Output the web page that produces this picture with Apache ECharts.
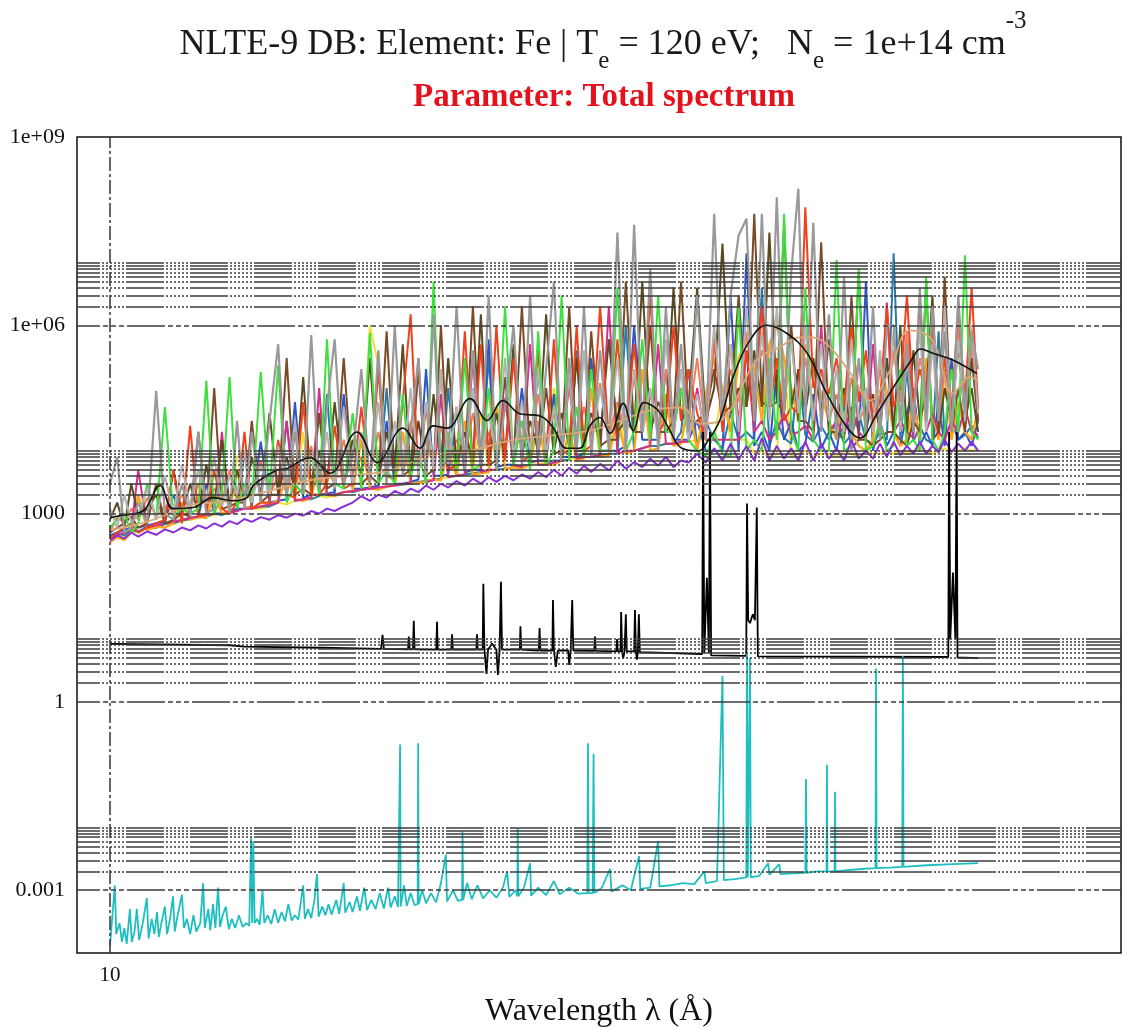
<!DOCTYPE html>
<html><head><meta charset="utf-8">
<script src="https://cdn.jsdelivr.net/npm/echarts@6/dist/echarts.min.js"></script>
<style>html,body{margin:0;padding:0;background:#fff}#c{width:1122px;height:1028px}</style>
</head><body><div id="c"></div>
<script>
// ---- axis ticks / grid values ----
const yTickValues = [1e-3, 1, 1e3, 1e6, 1e9];
const yTickLabels = ['0.001', '1', '1000', '1e+06', '1e+09'];
const xTickValues = [10];
const xTickLabels = ['10'];
const majorGrid = [1e-3, 1, 1e3, 1e6];
const minorGrid = [2e-3,3e-3,4e-3,5e-3,6e-3,7e-3,8e-3,9e-3,1e-2,
                   2,3,4,5,6,7,8,9,10,
                   2e3,3e3,4e3,5e3,6e3,7e3,8e3,9e3,1e4,
                   2e6,3e6,4e6,5e6,6e6,7e6,8e6,9e6,1e7];

// ---- wavelength grid (Angstrom) shared by the coloured components ----
const lambda = [
10.0,10.15,10.3,10.45,10.6,10.8,11.0,11.2,11.4,11.6,
11.8,12.0,12.2,12.4,12.6,12.8,13.0,13.2,13.4,13.65,
13.9,14.15,14.4,14.65,14.9,15.15,15.4,15.65,15.9,16.2,
16.5,16.8,17.1,17.4,17.7,18.0,18.3,18.6,18.9,19.2,
19.5,19.8,20.1,20.45,20.8,21.15,21.5,21.85,22.2,22.6,
23.0,23.4,23.8,24.2,24.6,25.0,25.4,25.8,26.2,26.6,
27.0,27.5,28.0,28.5,29.0,29.5,30.0,30.5,31.0,31.5,
32.0,32.5,33.0,33.6,34.2,34.8,35.4,36.0,36.6,37.2,
37.8,38.4,39.0,39.6,40.2,40.8,41.4,42.0,42.7,43.4,
44.1,44.8,45.5,46.2,46.9,47.6,48.3,49.0,49.7,50.4,
51.1,51.8,52.5,53.2,53.9,54.6,55.3,56.0,56.8,57.6,
58.4,59.2,60.0];

const yellowVals = [
380,450,420,520,500,600,580,700,680,760,
800,850,900,950,1e3,1e3,8e3,1e4,1.2e3,1.2e3,
1.3e3,1.5e3,1.4e3,1.6e3,2e4,1.7e3,1.9e3,1.8e3,2e3,2.2e3,
2.2e3,2.4e3,1e6,2.3e5,2.7e3,2.8e3,2.9e3,3e3,3.2e3,3.3e3,
3.5e3,3.6e3,3.8e3,4e3,4.2e3,4.4e3,4e4,4.8e3,5e3,5.2e3,
5.5e3,5.8e3,6e3,6.2e3,6.5e3,1e5,7e3,7.2e3,7.5e3,8e3,
8e3,8.5e3,9e3,5e4,1e4,1e4,1.1e4,1.2e4,1.2e4,1.3e4,
1.3e4,1.4e4,1.4e4,1.5e4,1.5e4,1.5e4,1e5,1.5e4,1.5e4,1.5e4,
9e3,1e4,8e3,9e3,3e5,8e3,9e3,1e4,8e3,9e3,
9e3,8e3,1e4,9e3,8e3,1e4,9e3,9e3,1e4,9e3,
1e4,9e3,1e4,1.1e4,1e4,9e3,1e4,1.1e4,1e4,1e4,
1.1e4,1e4,1.1e4];
const tealVals = [
420,480,450,550,520,620,600,680,700,780,
820,880,900,1e3,950,1.1e3,1.1e3,1e4,1.2e3,1.3e3,
1.3e3,1.5e3,3e4,1.6e3,1.7e3,1.7e3,1.9e3,8e4,2e3,2.2e3,
2.2e3,2.4e3,2.5e3,2.6e3,1e5,2.8e3,2.9e3,3e3,3.2e3,3.3e3,
3.5e3,3.6e3,1e5,4e3,4.2e3,4.4e3,4.6e3,3e5,5e3,5.2e3,
5.5e3,5.8e3,6e3,2e5,6.5e3,7e3,7e3,7.2e3,4e5,8e3,
8e3,8.5e3,9e3,9e3,1e6,1e4,1.1e4,1.2e4,1.2e4,1.3e4,
1.3e4,2e4,2e5,1.2e4,3e4,1.5e4,1.1e4,4e4,1.5e4,2e4,
1.5e4,4e6,1.2e4,3e4,1.6e4,1.3e4,2e5,1.8e4,1.4e4,2.5e4,
1.5e4,3e4,1.3e4,1.8e4,4e4,1.5e4,1.3e4,2e4,1.5e4,1.4e7,
1.6e4,2e5,1.4e4,2.5e4,1.5e4,1.3e4,8e5,1.6e4,3e4,1.5e4,
1.8e4,2.5e4,1.6e4];
const blueVals = [
450,500,550,600,600,650,700,750,2e3,800,
850,900,3e3,1e3,1e3,1.1e3,1.2e3,1.2e3,1.3e3,1.4e4,
1.5e3,1.6e3,1.7e3,6e4,1.8e3,2e3,2e3,2.1e3,2.2e3,8e4,
2.5e3,2.5e3,2.6e3,2.8e3,3e4,3e3,3e3,3.2e3,3.5e3,2e5,
4e3,4e3,4.2e3,5e4,4.5e3,5e3,5e3,6e5,5.5e3,6e3,
6e3,1e5,6.5e3,7e3,7e3,8e4,8e3,8e3,8e3,9e3,
3e5,1e4,1e4,1e4,1.2e4,1e6,1.5e4,1.5e4,1.5e4,2e5,
1.5e4,1.5e4,1.5e4,3e4,1e4,1e4,1e4,3e6,1e4,1.4e7,
1.2e4,2e4,1e4,2e5,1.5e4,3e4,1e4,1.3e4,8e4,1.1e4,
2e4,1e4,6e4,1.1e4,1.5e4,5e6,1e4,3e4,1.2e4,2e4,
1.2e4,4e4,1e5,1.2e4,2e4,1.2e4,6e4,1.2e4,3e5,1.5e4,
2e4,1.2e4,3e4];
const orangeVals = [
350,420,380,500,2e3,550,620,600,700,1.5e3,
800,900,850,2e3,1e3,1.1e3,5e3,1.3e3,1.2e3,1.5e3,
1.4e3,1.6e3,4e3,1.7e3,1.6e3,1.8e3,6e3,2e3,1.9e3,2.2e3,
2.3e3,1.5e4,2.5e3,2.4e3,2.7e3,2.8e3,2e4,3e3,3.1e3,3.2e3,
3.5e3,3.4e3,1e4,4e3,3e4,4.2e3,4.4e3,4.6e3,5e4,5e3,
5.5e3,5.2e3,6e3,3e4,6e3,6e3,7e3,2e4,7e3,7.5e3,
1e5,8e3,8.5e3,3e4,9e3,1e4,2e5,1e4,1.1e4,8e4,
1.2e4,1.3e4,6e4,1e4,8e4,3e5,1e5,2e4,3e5,6e5,
2e5,3e4,5e5,1e6,3e5,1e5,3e4,5e5,2e5,8e4,
3e4,1.5e4,1e5,2e4,1.2e4,1e4,1.5e4,3e5,8e4,2e4,
1.2e4,1.5e4,6e4,1.5e4,3e5,4e4,1.5e4,2e5,1.5e4,6e4,
2e4,1.5e4,5e4];
const salmonVals = [
500,900,700,1.2e3,800,1.8e3,900,1.3e3,1.1e3,2e3,
1.2e3,3e3,1.3e3,2.5e3,1.5e3,5e3,1.6e3,3e3,1.8e3,7e3,
2e3,4e3,2.2e3,6e3,2.5e3,1.2e4,2.8e3,5e3,3e3,1.5e4,
3.5e3,8e3,4e3,2e4,4.5e3,1e4,5e3,3e4,5.5e3,1.5e4,
6e3,2.5e4,7e3,1.5e4,8e3,4e4,8e3,2e4,9e3,6e4,
1e4,3e4,1.1e4,8e4,1.2e4,4e4,1.3e4,1e5,1.4e4,5e4,
1.5e4,1.2e5,1.6e4,6e4,1.8e4,1.5e5,2e4,8e4,2e4,2e5,
2.5e4,1e5,3e4,3e5,2e4,5e5,4e4,2e5,6e4,8e5,
1e5,4e5,2e5,1.5e6,1e5,6e5,5e4,3e5,4e4,2e5,
3e4,8e4,2e4,1.5e5,3e4,5e4,4e4,2e5,5e4,4e5,
6e4,8e5,5e4,3e5,1e5,6e5,4e4,2e5,5e4,1e6,
4e4,5e5,3e4];
const magentaVals = [
400,450,500,550,5e3,600,650,700,750,800,
850,900,950,1e3,2e4,1e3,1.1e3,1.2e3,1.2e3,1.3e3,
1.4e3,1.5e3,3e4,1.6e3,1.7e3,1.8e3,1e5,2e3,2e3,2.2e3,
2.3e3,2.4e3,2.5e3,2.6e3,2.7e3,2.8e3,3e3,3e3,3e5,3.2e3,
3.4e3,8e4,3.8e3,4e3,4.2e3,3e5,4.6e3,5e3,5e3,7e4,
6e3,5.5e3,5e5,6e3,6e3,6.5e3,7e3,1.5e5,7.5e3,8e3,
8e3,8.5e3,2e6,9e3,1e4,1e4,1.1e4,1.2e4,5e5,1.3e4,
1.3e4,1.4e4,1.4e4,1e5,1.5e4,1.5e4,1.5e4,1.5e4,1.5e4,4e5,
2e4,3e4,1.5e4,2e4,4e4,1.8e4,2e4,2.5e4,1.5e4,1e6,
2e4,3e4,1.8e4,5e4,2e4,1.5e4,5e5,2e4,2.3e6,2e4,
3e4,2e4,1.6e4,3e6,2e4,4e4,2e4,1.5e4,3e4,2e4,
5e4,2e4,1.8e4];
const oliveVals = [
800,1.5e3,600,3e3,900,1.2e3,2e3,700,5e3,1e3,
3e3,1e3,6e3,1.2e3,1.5e4,1.4e3,5e3,1.6e3,8e3,2e3,
4e4,2e3,8e3,2.5e3,1.5e5,2.5e3,1e4,3e3,6e4,3e3,
1.5e4,4e3,3e5,3.5e3,2e4,5e3,5e5,4e3,3e4,5e3,
8e4,6e3,3e5,6e3,2e4,7e3,1.5e6,7e3,4e4,8e3,
5e5,9e3,3e4,1e4,1.5e6,1e4,4e4,1.2e4,3e5,1.2e4,
4e4,1.5e4,6e5,2e4,3e4,2e4,5e6,2e4,6e4,3e4,
4e6,3e4,5e4,4e6,3e4,1e5,2e7,4e4,1e5,5e4,
4e5,5e4,3e7,6e4,4.3e7,5e4,2e5,4e4,3e5,4e4,
6e5,3e4,1e5,2e4,7e6,2e4,8e4,2e4,3e5,2e4,
1e6,2e4,4e5,3e4,8e4,3e6,2e4,1e5,3e4,5e5,
3e4,1e5,2e4];
const brownVals = [
500,600,700,900,600,700,3e3,700,800,1e3,
900,2e4,1e3,1e5,1.2e3,1.3e3,1.5e3,1.5e3,3e4,1.5e3,
2e3,2e3,3e5,2e3,2.5e3,2e3,4e4,2.5e3,3e3,3e5,
3e3,3e3,4e3,3e3,8e5,4e3,4e3,5e3,2e5,4e3,
5e3,1e6,5e3,6e3,6e3,2e6,6e3,6e3,7e3,1.5e5,
7e3,2e6,8e3,8e3,1e5,9e3,1e4,2e6,1e4,1e4,
8e5,1.2e4,1.5e4,1.5e4,5e6,2e4,2e4,1e6,2e4,2e4,
3e4,5e6,3e4,3e4,4e4,2e5,4e4,5e4,3e6,5e4,
6e7,6e4,5e4,6e4,4e4,1e6,3e4,3e4,2e4,2.1e7,
2e4,2e4,1.5e4,3e6,1.5e4,1.5e4,1.2e4,1.5e4,2e4,2e4,
1.5e4,1.2e4,3e4,2e4,5e6,1.5e4,2e4,6e6,2e4,1e5,
2e4,3e5,3e4];
const redVals = [
400,500,600,700,500,600,700,800,5e3,700,
2.5e4,900,1e3,5e3,1.2e3,1e3,1.5e3,2e4,1.2e3,1.5e3,
1.5e3,1.5e4,2e3,1.8e3,6e4,2e3,2e3,3e3,2.5e4,2.5e3,
3e3,5e4,3e3,2e5,4e3,3.5e3,6e4,1.5e6,4e3,5e4,
5e3,2e5,5e3,6e3,8e5,6e3,5e5,6e3,1e6,7e3,
3e5,7e3,8e3,4e5,8e3,6e5,9e3,1e4,1e6,1e4,
1.2e4,2e6,1.5e4,6e5,2e4,5e5,2e4,3e6,2e4,3e4,
1e6,3e4,2e5,4e4,1.5e4,8e5,2e4,5e5,3e4,4e5,
3e4,2e6,4e4,3e5,3e4,5e4,4e4,7.6e7,1e5,2e5,
8e4,3e5,5e4,1e6,6e4,4e5,3e4,6e4,2e6,5e4,
1e5,3e6,6e4,2e5,8e4,1e6,5e4,3e5,4e4,2e6,
6e4,4e6,5e4];
const greenVals = [
600,800,1e3,500,700,3e3,800,5e4,900,1.2e3,
1e3,1.2e3,1.3e5,1e3,2e3,1.5e5,1.2e3,3e3,1.5e3,1.8e5,
2e3,2.3e5,1.5e3,3e3,2e3,1e4,2e3,6e5,3e3,2.5e3,
4e4,2.5e3,7.5e5,3e3,5e3,3e3,8e4,4e3,1e4,3e3,
5e6,4e3,2e4,5e3,3e5,5e3,6e3,1e5,5e3,2e6,
6e3,3e4,5e3,8e5,6e3,1e4,3e6,7e3,5e4,8e3,
2e5,1e4,1e4,4e6,1e4,2e4,6e5,1.5e4,3e6,2e4,
2e4,1e5,1.5e4,1e4,8e3,2e4,9e3,8e3,2e6,1e4,
1.5e4,1e4,3e5,1.5e4,6e7,2e4,1e4,4e6,1.5e4,1e4,
1e4,1.1e7,1e4,1.2e4,8e6,1e4,1.2e4,3e4,1e4,1.2e4,
2e5,1.2e4,1.5e4,1e4,6e6,1.5e4,1e4,2e4,2e5,2e4,
1.3e7,2e4,1.5e4];
const silverVals = [
1.2e3,600,2e3,700,1e3,2.5e3,800,4e3,1e3,6e3,
1.2e3,5e3,1.5e3,8e3,1.3e3,4e3,2e3,1e4,1.5e3,6e3,
2e3,1.2e4,2.5e3,3e4,2e3,1e4,3e3,2e4,2.5e3,5e4,
3e3,2e4,4e3,6e4,3.5e3,3e4,5e3,1e5,4e3,6e4,
5e3,2e5,6e3,5e4,7e3,1e5,6e3,4e4,8e3,3e5,
8e3,6e4,1e4,2e5,9e3,5e4,1.2e4,1.5e5,1e4,4e5,
1.2e4,1e5,1.5e4,3e5,1.3e4,2e5,2e4,1e5,1.5e4,6e5,
2e4,2e5,1.5e4,8e4,2e4,1e6,3e4,5e5,2e4,2e6,
4e4,8e5,3e4,2e6,5e4,6e5,4e4,1e6,3e4,5e5,
3e4,2e5,2e4,6e5,3e4,1e5,2e4,4e5,3e4,8e5,
2e4,3e5,3e4,1e6,2e4,5e5,3e4,2e6,2e4,6e5,
3e4,1e6,4e4];
const grayVals = [
3e3,8e3,500,600,1.5e3,700,9e4,1e3,800,3e3,
900,2e4,1e3,1.2e3,5e3,1e3,3e4,1.2e3,2e4,1.5e3,
3e4,5e5,2e3,2e4,2e3,7e5,2.5e3,5e4,6e5,3e3,
8e3,2e5,3e3,4e5,3e3,1e6,4e3,2e4,3e5,4e3,
1.5e6,5e3,8e3,2e6,5e3,4e5,6e3,3e6,5e3,5e4,
1e6,6e3,3e6,8e3,2e5,5e6,7e3,3e5,1e4,2e6,
8e3,4e5,1e4,3e7,1e4,4e7,2e4,8e6,1e4,2e6,
1.5e4,5e5,2e4,3e6,1.5e4,6e7,3e4,3e6,2.7e7,5e7,
3e4,6e7,5e4,1.1e8,4e4,7e6,1.5e8,3e4,4.3e7,2e4,
1.5e6,1.5e4,6e6,1e4,3e5,2e4,2e6,1.5e4,1e6,1e6,
3e4,5e5,2e4,4e6,3e4,2e6,3e4,8e5,2e4,3e6,
4e4,8e5,2e5];
const purpleVals = [
370,450,400,500,430,520,460,560,500,600,
540,650,580,700,620,760,680,820,740,880,
800,950,860,1e3,930,1.1e3,1e3,1.2e3,1.1e3,1.3e3,
1.5e3,1.9e3,1.6e3,2e3,1.8e3,2.3e3,2e3,2.5e3,2.2e3,2.8e3,
2.4e3,3e3,2.6e3,3.3e3,2.8e3,3.6e3,3e3,3.8e3,3.2e3,4e3,
3.4e3,4.2e3,3.6e3,4.6e3,3.8e3,5e3,4e3,5.4e3,4.3e3,5.8e3,
4.6e3,6.2e3,4.9e3,7e3,5.2e3,6.6e3,5.5e3,7.5e3,5.8e3,8e3,
5.5e3,7e3,6.5e3,9e3,6.5e3,1.1e4,7e3,1.3e4,7.2e3,1.2e4,
7e3,1.6e4,7e3,1.2e4,7.5e3,1.1e4,7e3,1.4e4,7e3,1.3e4,
7.5e3,1.1e4,7e3,1.5e4,7.5e3,1e4,7.5e3,1.3e4,8e3,1.4e4,
8.5e3,1.2e4,9e3,1.4e4,9e3,1.2e4,9.5e3,1.5e4,9.5e3,1.3e4,
1e4,1.4e4,1e4];

// ---- smooth (convolved) total spectrum, [lambda, value] ----
const smoothTotal = [
[10.0,860],[10.21,930],[10.70,1.1e3],[11.09,2.8e3],[11.39,1.2e3],[11.87,1.25e3],
[12.37,1.8e3],[12.89,1.6e3],[13.27,1.8e3],[13.44,2.8e3],[14.11,4.9e3],[14.40,5.2e3],
[15.11,7.8e3],[15.75,4.4e3],[16.65,2e4],[17.36,6.5e3],[18.31,2.3e4],[18.96,1.1e4],
[19.48,2.5e4],[20.05,2.3e4],[21.03,6.8e4],[21.78,3.05e4],[22.50,6.3e4],[23.30,3.9e4],
[24.30,3.6e4],[24.95,2.35e4],[25.67,1.1e4],[26.36,1.1e4],[26.93,2.5e4],[27.49,3.4e4],
[28.07,1.9e4],[28.84,5.7e4],[29.46,2.1e4],[30.10,5.9e4],[31.0,4.4e4],[31.66,2.35e4],
[32.55,1.1e4],[33.7,1.0e4],[34.36,1.46e4],[35.2,3.05e4],[36.17,1.48e5],[37.47,5.8e5],
[38.79,1.0e6],[40.44,7.4e5],[42.16,3.6e5],[43.9,8.2e4],[45.79,2.35e4],[47.0,1.6e4],
[48.69,3.9e4],[50.33,1.0e5],[52.48,3.1e5],[53.25,4.2e5],[54.65,3.6e5],[56.94,2.8e5],[59.87,1.7e5]];
const tanSmooth = [
[10.0,540],[10.86,770],[11.79,1.35e3],[12.81,1.6e3],[13.91,2.3e3],[15.11,3.4e3],
[16.41,4e3],[17.82,4.9e3],[19.36,8.4e3],[21.03,1e4],[22.83,1.46e4],[24.80,1.75e4],
[26.93,2.1e4],[28.65,3e4],[30.48,4.4e4],[32.55,4.9e4],[33.8,2.7e4],[35.2,3e4],
[38.0,2.8e5],[39.85,4.5e5],[41.5,6.4e5],[42.6,6.4e5],[44.19,4.5e5],[46.35,1.5e5],
[47.99,6.3e4],[50.0,1.9e5],[52.12,8.3e5],[54.6,5.8e5],[57.0,8.2e4],[58.98,1.5e5],[60.0,1.3e5]];

// ---- lower black component, [lambda, value] ----
const blackLower = [
[10.0,8.4],[12.8,8.0],[13.2,7.6],[15.5,7.3],[17.5,7.0],
[17.55,11.7],[17.6,7.0],[18.5,6.9],[18.53,11],[18.56,6.9],
[18.69,6.9],[18.72,19.6],[18.75,6.9],[19.61,6.8],[19.64,19],[19.67,6.8],
[20.23,6.8],[20.26,12],[20.29,6.8],[21.3,6.8],[21.33,12],[21.36,6.8],
[21.58,6.8],[21.61,76],[21.66,6.8],[21.75,2.8],[21.82,6.8],[22.0,8.5],[22.2,6.8],
[22.27,2.7],[22.35,6.8],[22.41,82],[22.46,6.8],
[23.30,6.8],[23.33,16],[23.37,6.8],[24.23,6.6],[24.27,15],[24.31,6.6],
[24.92,6.6],[24.95,42],[25.0,6.6],[25.1,3.6],[25.2,6.6],
[25.75,6.6],[25.8,3.9],[25.88,6.6],[25.96,42],[26.02,6.6],
[27.17,6.5],[27.21,11],[27.25,6.5],[28.44,6.4],[28.48,10],[28.52,6.4],
[28.69,6.4],[28.72,27],[28.78,6.4],[28.84,4.9],[28.92,6.4],[29.0,25],[29.05,6.4],
[29.5,6.4],[29.55,29],[29.61,6.4],[29.67,4.7],[29.73,6.4],[29.79,25],[29.85,6.2],
[33.95,5.8],[34.01,2e4],[34.1,6],[34.28,95],[34.42,6],[34.5,2e4],[34.58,5.5],
[37.18,5.4],[37.24,1450],[37.33,20],[37.47,18],[37.6,22],[37.70,25],[37.85,20],[38.0,1250],[38.08,5.3],
[56.42,5.2],[56.51,2e4],[56.65,10],[56.96,115],[57.25,10],[57.4,2e4],[57.5,5.1],
[60.0,5.0]];

// ---- bottom cyan component, [lambda, value] ----
const cyanSpectrum = [
[10.0,1.3e-4],[10.05,4e-4],[10.1,1.2e-3],[10.13,2e-4],[10.2,3e-4],[10.25,1.5e-4],[10.3,2.5e-4],[10.35,1.4e-4],
[10.42,5e-4],[10.46,1.5e-4],[10.52,2.2e-4],[10.57,5e-4],[10.62,1.6e-4],[10.7,3e-4],[10.79,7.5e-4],[10.83,1.7e-4],
[10.9,3.5e-4],[10.96,2e-4],[11.02,4.5e-4],[11.06,1.8e-4],[11.12,3e-4],[11.2,5.5e-4],[11.25,2e-4],[11.32,3.5e-4],
[11.39,8e-4],[11.43,2.2e-4],[11.5,4e-4],[11.6,8.5e-4],[11.65,2.5e-4],[11.72,3.5e-4],[11.8,2e-4],[11.88,4e-4],
[11.95,2.2e-4],[12.05,3e-4],[12.12,1.3e-3],[12.16,2.5e-4],[12.25,5e-4],[12.3,2.3e-4],[12.37,6e-4],[12.43,2.5e-4],
[12.5,1.1e-3],[12.55,2.6e-4],[12.62,4e-4],[12.7,5.5e-4],[12.78,2.4e-4],[12.86,3.5e-4],[12.95,2.5e-4],[13.05,4e-4],
[13.15,2.6e-4],[13.25,3e-4],[13.33,2.7e-4],[13.38,6.8e-3],[13.41,3e-4],[13.44,6e-3],[13.48,3e-4],[13.55,3.5e-4],
[13.62,2.8e-4],[13.7,1e-3],[13.75,3e-4],[13.85,4e-4],[13.95,2.9e-4],[14.05,5e-4],[14.15,3e-4],[14.25,4.5e-4],
[14.35,3.2e-4],[14.45,6e-4],[14.55,3.3e-4],[14.65,4e-4],[14.75,3.4e-4],[14.9,1.2e-3],[14.95,3.5e-4],[15.05,5e-4],
[15.15,3.6e-4],[15.25,7e-4],[15.33,1.8e-3],[15.38,3.8e-4],[15.5,5.5e-4],[15.6,4e-4],[15.7,6e-4],[15.8,4.1e-4],
[15.95,7e-4],[16.05,4.2e-4],[16.2,1.3e-3],[16.25,4.4e-4],[16.4,6.5e-4],[16.5,4.5e-4],[16.65,8e-4],[16.75,4.7e-4],
[16.9,1.1e-3],[17.0,4.8e-4],[17.15,7e-4],[17.3,5e-4],[17.45,9e-4],[17.6,5.1e-4],[17.75,1.1e-3],[17.85,5.3e-4],
[18.0,8e-4],[18.12,5.4e-4],[18.18,5.5e-4],[18.2,0.21],[18.22,5.5e-4],[18.35,1.2e-3],[18.45,5.6e-4],[18.6,9e-4],
[18.75,5.8e-4],[18.87,6e-4],[18.89,0.22],[18.91,6e-4],[19.05,1e-3],[19.2,6.2e-4],[19.4,9e-4],[19.6,6.4e-4],
[19.8,1.3e-3],[20.0,3.7e-3],[20.05,6.6e-4],[20.3,1e-3],[20.5,6.8e-4],[20.68,7e-4],[20.7,8.7e-3],[20.73,7e-4],
[20.9,1.3e-3],[21.1,7.2e-4],[21.35,1.2e-3],[21.6,7.4e-4],[21.9,1e-3],[22.2,7.6e-4],[22.5,1.1e-3],[22.7,2e-3],
[22.8,7.8e-4],[23.1,1e-3],[23.18,8e-4],[23.2,9.8e-3],[23.23,8e-4],[23.5,1.1e-3],[23.8,2.7e-3],[23.85,8.2e-4],
[24.2,1.1e-3],[24.6,8.4e-4],[25.0,1.4e-3],[25.3,8.6e-4],[25.8,1.1e-3],[26.3,8.8e-4],[26.78,9e-4],[26.82,0.22],
[26.86,9e-4],[27.08,9e-4],[27.13,0.15],[27.18,9e-4],[27.6,1.1e-3],[28.07,2.2e-3],[28.15,9.5e-4],[28.8,1.2e-3],
[29.3,1e-3],[29.8,3.5e-3],[29.88,1.05e-3],[30.5,1.1e-3],[31.0,6.1e-3],[31.08,1.15e-3],[31.8,1.2e-3],[32.6,1.3e-3],
[33.4,1.25e-3],[34.1,2e-3],[34.2,1.3e-3],[35.0,1.4e-3],[35.4,2.6],[35.5,1.45e-3],[36.3,1.5e-3],[37.18,1.6e-3],
[37.24,6],[37.3,1.6e-3],[37.42,1.6e-3],[37.47,5],[37.53,1.6e-3],[38.2,1.7e-3],[38.9,2.7e-3],[39.0,1.75e-3],
[39.8,2.6e-3],[39.9,1.8e-3],[41.0,1.85e-3],[42.0,1.9e-3],[42.06,0.059],[42.12,1.9e-3],[43.0,2e-3],[43.88,2e-3],
[43.92,0.1],[43.96,2e-3],[44.62,2e-3],[44.66,0.037],[44.7,2e-3],[46.0,2.1e-3],[47.5,2.2e-3],[48.55,2.25e-3],
[48.6,3.4],[48.66,2.25e-3],[50.0,2.3e-3],[51.3,2.35e-3],[51.37,5.4],[51.44,2.35e-3],[54.0,2.5e-3],[57.0,2.6e-3],
[60.0,2.7e-3]];

// ---- build chart ----
const SERIF = '"Liberation Serif", "Times New Roman", serif';
const chart = echarts.init(document.getElementById('c'), null, {renderer: 'canvas'});

function onGrid(arr) { return lambda.map((x, i) => [x, arr[i]]); }
function spec(name, data, color, width, extra) {
  return Object.assign({
    type: 'line', name: name, data: data, symbol: 'none', showSymbol: false,
    lineStyle: {color: color, width: width}, itemStyle: {color: color},
    silent: true, animation: false, emphasis: {disabled: true}
  }, extra || {});
}
const minorStyle = {color: '#3c3c3c', width: 1.5, type: [38,2,2,2,2,2,2,2,2,2,2,2,2,2], dashOffset: 15};
const majorStyle = {color: '#3c3c3c', width: 1.5, type: [38,3,5,3,5,3,5,3], dashOffset: 15};
const gridLines = []
  .concat(minorGrid.map(v => ({yAxis: v, lineStyle: minorStyle})))
  .concat(majorGrid.map(v => ({yAxis: v, lineStyle: majorStyle})))
  .concat(xTickValues.map(v => ({xAxis: v, lineStyle: {color: '#333', width: 1.5, type: [14,3,3,3]}})));

function fmtTick(values, labels) {
  return function (v) {
    for (let i = 0; i < values.length; i++) {
      if (Math.abs(Math.log10(v) - Math.log10(values[i])) < 1e-6) return labels[i];
    }
    return '';
  };
}

const W = 2;
const option = {
  animation: false,
  backgroundColor: '#fff',
  grid: {left: 77, right: 1, top: 137, bottom: 75, show: true, borderColor: '#111', borderWidth: 1.5,
         backgroundColor: 'transparent', containLabel: false, outerBoundsMode: 'none'},
  xAxis: {
    type: 'log', logBase: 10, min: 9.342, max: 80.58,
    axisLine: {show: false}, axisTick: {show: false}, splitLine: {show: false}, minorSplitLine: {show: false},
    axisLabel: {formatter: fmtTick(xTickValues, xTickLabels), fontFamily: SERIF, fontSize: 21, color: '#111', margin: 12,
                showMinLabel: false, showMaxLabel: false, hideOverlap: false},
    name: 'Wavelength λ (Å)', nameLocation: 'middle', nameGap: 43,
    nameTextStyle: {fontFamily: SERIF, fontSize: 32, color: '#111'}
  },
  yAxis: {
    type: 'log', logBase: 1000, min: 1e-4, max: 1e9,
    axisLine: {show: false}, axisTick: {show: false}, splitLine: {show: false},
    axisLabel: {formatter: fmtTick(yTickValues, yTickLabels), fontFamily: SERIF, fontSize: 22, color: '#111', margin: 12}
  },
  graphic: [
    {type: 'text', x: 603, y: 45, silent: true, style: {
      text: '{m|NLTE-9 DB: Element: Fe | T}{s|e}{m| = 120 eV;   N}{s|e}{m| = 1e+14 cm}{p|-3}',
      align: 'center', verticalAlign: 'middle',
      rich: {
        m: {fontSize: 36, fontFamily: SERIF, fill: '#1a1a1a'},
        s: {fontSize: 25, fontFamily: SERIF, fill: '#1a1a1a', padding: [32, 0, 0, 0]},
        p: {fontSize: 25, fontFamily: SERIF, fill: '#1a1a1a', padding: [0, 0, 48, 0]}
      }}},
    {type: 'text', x: 604, y: 97, silent: true, style: {
      text: 'Parameter: Total spectrum', align: 'center', verticalAlign: 'middle',
      fontSize: 33, fontWeight: 'bold', fontFamily: SERIF, fill: '#e3121c'}}
  ],
  series: [
    spec('grid', [[10, 1e-4]], 'rgba(0,0,0,0)', 0, {
      markLine: {silent: true, symbol: ['none', 'none'], precision: 8, label: {show: false}, animation: false,
                 emphasis: {disabled: true}, data: gridLines}
    }),
    spec('yellow', onGrid(yellowVals), '#ece03a', W),
    spec('teal', onGrid(tealVals), '#2c7ba6', W),
    spec('blue', onGrid(blueVals), '#2f55c8', W),
    spec('orange', onGrid(orangeVals), '#ffa31a', 2.4),
    spec('salmon', onGrid(salmonVals), '#f47c5c', W),
    spec('magenta', onGrid(magentaVals), '#d62f8a', W),
    spec('olive', onGrid(oliveVals), '#5a4a20', W),
    spec('brown', onGrid(brownVals), '#7b4a26', W),
    spec('red', onGrid(redVals), '#f2401f', W),
    spec('green', onGrid(greenVals), '#3ee03e', W),
    spec('silver', onGrid(silverVals), '#b3b3b3', W),
    spec('gray', onGrid(grayVals), '#999999', 2.2),
    spec('purple', onGrid(purpleVals), '#8b2fd6', 2),
    spec('tan', tanSmooth, '#d9a87a', 1.8, {smooth: 0.4}),
    spec('total', smoothTotal, '#111', 1.6, {smooth: 0.4}),
    spec('lower', blackLower, '#000', 1.8),
    spec('cyan', cyanSpectrum, '#20bfbf', 1.8)
  ]
};
chart.setOption(option);
</script></body></html>
